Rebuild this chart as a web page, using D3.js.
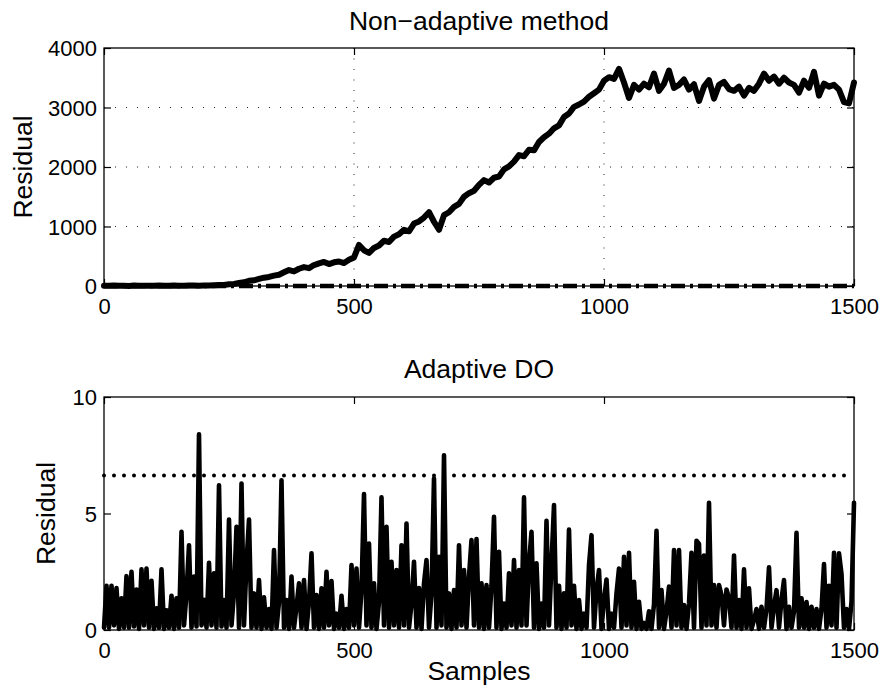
<!DOCTYPE html>
<html>
<head>
<meta charset="utf-8">
<script src="https://cdnjs.cloudflare.com/ajax/libs/d3/7.8.5/d3.min.js"></script>
<style>
    body { margin: 0; background: #fff; }
    svg { display: block; }
    text { font-family: "Liberation Sans", Arial, Helvetica, sans-serif; fill: #000; }
</style>
</head>
<body>
<div id="chart"></div>
<script>
// sample spacing of the typed series
var nonAdaptiveStep = 10;
var adaptiveStep = 5;

var xTicks = [0, 500, 1000, 1500];
var nonAdaptiveYTicks = [0, 1000, 2000, 3000, 4000];
var adaptiveYTicks = [0, 5, 10];

var nonAdaptiveThreshold = 0;
var adaptiveThreshold = 6.63;

// residual of the non-adaptive method, one value every 10 samples
var nonAdaptiveResidual = [
    5, 3, 8, 4, 6, 2, 7, 5, 3, 6,
    4, 8, 5, 3, 7, 6, 4, 9, 7, 5,
    10, 8, 12, 15, 18, 28, 35, 50, 62, 88,
    95, 118, 140, 152, 175, 190, 230, 268, 245, 290,
    318, 300, 352, 380, 405, 368, 398, 412, 385, 440,
    480, 690, 600, 555, 640, 680, 760, 740, 830, 870,
    945, 920, 1050, 1085, 1150, 1240, 1080, 945, 1190, 1240,
    1330, 1380, 1500, 1560, 1600, 1700, 1780, 1740, 1820, 1840,
    1960, 2010, 2090, 2200, 2180, 2290, 2280, 2420, 2500, 2560,
    2650, 2700, 2840, 2900, 3010, 3050, 3100, 3180, 3240, 3300,
    3450, 3510, 3480, 3650, 3420, 3160, 3380, 3300, 3400, 3340,
    3570, 3280, 3400, 3620, 3330, 3380, 3470, 3300, 3390, 3110,
    3350, 3460, 3150, 3380, 3430, 3310, 3280, 3350, 3200, 3330,
    3280, 3400, 3570, 3450, 3520, 3400, 3500, 3420, 3380, 3250,
    3450, 3330, 3600, 3200, 3400, 3350, 3380, 3300, 3090, 3070,
    3420
];

// residual of the adaptive DO, one value every 5 samples
var adaptiveResidual = [
    0.1, 1.9, 0.1, 1.9, 0.2, 1.8, 0.05, 1.36, 0.1, 2.31,
    0.1, 2.5, 0.15, 1.74, 0.05, 2.6, 0.2, 2.64, 0.1, 2.11,
    0.05, 0.93, 0.1, 2.6, 0.05, 0.85, 0.1, 1.47, 0.05, 1.36,
    0.1, 4.21, 0.2, 1.57, 3.64, 0.1, 2.29, 0.15, 8.4, 0.2,
    1.3, 0.1, 2.88, 0.2, 2.43, 0.1, 6.21, 0.15, 1.29, 0.1,
    4.74, 0.2, 1.6, 4.43, 0.1, 6.29, 0.2, 2.86, 4.74, 0.1,
    1.57, 0.1, 2.14, 0.05, 1.4, 0.1, 0.9, 0.05, 3.43, 0.1,
    1.2, 6.43, 0.1, 1.29, 0.05, 2.29, 0.1, 1.0, 2.0, 0.1,
    2.14, 0.05, 1.2, 3.29, 0.1, 1.5, 0.05, 1.79, 0.1, 2.5,
    0.2, 2.1, 0.05, 0.7, 0.1, 1.47, 0.05, 0.9, 0.1, 2.79,
    0.2, 2.64, 0.1, 1.71, 5.83, 0.2, 3.71, 0.1, 2.0, 0.05,
    1.2, 5.69, 0.2, 4.43, 0.1, 2.93, 0.2, 2.57, 0.1, 3.64,
    0.2, 4.57, 0.1, 1.14, 2.93, 0.1, 1.8, 0.05, 2.0, 3.0,
    0.1, 1.57, 6.5, 0.1, 3.14, 0.2, 7.5, 0.1, 1.57, 0.05,
    1.71, 0.1, 3.64, 0.2, 2.57, 0.1, 2.29, 3.86, 0.2, 3.9,
    0.1, 2.0, 0.05, 1.93, 0.1, 1.9, 4.86, 0.1, 3.36, 0.05,
    1.14, 0.1, 2.43, 0.2, 3.0, 0.1, 2.57, 0.2, 5.69, 0.2,
    2.86, 4.21, 0.1, 2.86, 0.05, 1.14, 0.1, 4.69, 0.2, 2.86,
    5.36, 0.1, 1.9, 0.05, 1.57, 0.1, 4.31, 0.2, 1.9, 0.05,
    1.29, 0.05, 0.7, 0.1, 2.79, 4.07, 0.1, 1.71, 2.57, 0.05,
    1.3, 2.17, 0.05, 0.7, 0.1, 1.57, 2.64, 0.1, 3.14, 0.2,
    3.31, 0.1, 2.07, 0.05, 1.21, 0.05, 0.3, 0.05, 0.8, 0.05,
    1.1, 4.26, 0.1, 1.71, 0.05, 0.8, 1.86, 0.1, 3.43, 0.2,
    3.43, 0.1, 1.07, 0.05, 1.14, 3.31, 0.1, 3.83, 3.69, 0.1,
    3.2, 0.2, 5.46, 0.2, 1.93, 0.1, 1.93, 1.5, 0.2, 1.74,
    1.36, 0.1, 3.2, 0.1, 1.29, 0.05, 2.6, 0.1, 1.79, 0.05,
    0.43, 0.9, 0.05, 1.0, 0.1, 0.9, 2.69, 0.1, 1.0, 1.71,
    0.1, 1.3, 2.14, 0.05, 1.0, 0.1, 0.8, 4.17, 0.1, 1.36,
    0.1, 1.2, 0.05, 1.0, 0.1, 0.9, 0.05, 0.9, 2.83, 0.1,
    1.9, 0.2, 3.31, 0.1, 3.29, 2.4, 0.1, 0.9, 0.05, 1.2,
    5.46
];


var width = 881
var height = 695
var tickLen = 7

var chartSvg = d3.select('#chart')
    .append('svg')
    .attr('width', width)
    .attr('height', height)

var xScale = d3.scaleLinear()
    .domain([0, 1500])
    .range([104, 854])

//builds one subplot: grid, data, threshold, box, ticks, labels
function drawPanel(opt) {
    var g = chartSvg.append('g')

    var yScale = d3.scaleLinear()
        .domain([opt.yTicks[0], opt.yTicks[opt.yTicks.length - 1]])
        .range([opt.bottom, opt.top])

    var x0 = xScale.range()[0], x1 = xScale.range()[1]

    if (opt.grid) {
        g.selectAll('.vgrid')
            .data(xTicks.slice(1, -1))
            .enter()
            .append('line')
            .attr('x1', function(d) { return xScale(d) })
            .attr('x2', function(d) { return xScale(d) })
            .attr('y1', opt.top)
            .attr('y2', opt.bottom)
            .attr('stroke', '#222')
            .attr('stroke-width', 1)
            .attr('stroke-dasharray', '1,9.5')
        g.selectAll('.hgrid')
            .data(opt.yTicks.slice(1, -1))
            .enter()
            .append('line')
            .attr('y1', function(d) { return yScale(d) })
            .attr('y2', function(d) { return yScale(d) })
            .attr('x1', x0)
            .attr('x2', x1)
            .attr('stroke', '#222')
            .attr('stroke-width', 1)
            .attr('stroke-dasharray', '1,10')
    }

    var line = d3.line()
        .x(function(d, i) { return xScale(i * opt.step) })
        .y(function(d) { return yScale(d) })

    g.append('path')
        .datum(opt.values)
        .attr('d', line)
        .attr('fill', 'none')
        .attr('stroke', '#000')
        .attr('stroke-width', opt.lineWidth)
        .attr('stroke-linejoin', 'round')
        .attr('stroke-linecap', 'round')

    var thresholdLine = d3.line()
        .x(function(d) { return xScale(d) })
        .y(function() { return yScale(opt.threshold) })

    g.append('path')
        .datum([0, 1500])
        .attr('d', thresholdLine)
        .attr('fill', 'none')
        .attr('stroke', '#000')
        .attr('stroke-width', opt.thresholdWidth)
        .attr('stroke-dasharray', opt.thresholdDash)
        .attr('stroke-linecap', opt.thresholdCap)

    // axes box
    g.append('rect')
        .attr('x', x0)
        .attr('y', opt.top)
        .attr('width', x1 - x0)
        .attr('height', opt.bottom - opt.top)
        .attr('fill', 'none')
        .attr('stroke', '#000')
        .attr('stroke-width', 1.3)

    var fmt = d3.format('d')
    var xAxisG = g.append('g')
        .attr('transform', 'translate(0,' + opt.bottom + ')')
        .call(d3.axisBottom(xScale).tickValues(xTicks).tickFormat(fmt).tickSizeInner(-tickLen).tickSizeOuter(0))
    var xAxisTopG = g.append('g')
        .attr('transform', 'translate(0,' + opt.top + ')')
        .call(d3.axisTop(xScale).tickValues(xTicks).tickSizeInner(-tickLen).tickSizeOuter(0).tickFormat(''))
    var yAxisG = g.append('g')
        .attr('transform', 'translate(' + x0 + ',0)')
        .call(d3.axisLeft(yScale).tickValues(opt.yTicks).tickFormat(fmt).tickSizeInner(-tickLen).tickSizeOuter(0))
    var yAxisRightG = g.append('g')
        .attr('transform', 'translate(' + x1 + ',0)')
        .call(d3.axisRight(yScale).tickValues(opt.yTicks).tickSizeInner(-tickLen).tickSizeOuter(0).tickFormat(''))

    ;[xAxisG, xAxisTopG, yAxisG, yAxisRightG].forEach(function(a) {
        a.select('.domain').remove()
        a.selectAll('line').attr('stroke', '#000').attr('stroke-width', 1.2)
        a.selectAll('text')
            .style('font-family', '"Liberation Sans", Arial, sans-serif')
            .style('font-size', '22px')
            .attr('fill', '#000')
    })
    xAxisG.selectAll('text').attr('dy', null).attr('y', 28)
    yAxisG.selectAll('text').attr('dy', '0.36em').attr('x', -7)

    g.append('text')
        .attr('x', (x0 + x1) / 2)
        .attr('y', opt.titleY)
        .attr('text-anchor', 'middle')
        .style('font-size', '26.5px')
        .text(opt.title)

    g.append('text')
        .attr('transform', 'translate(' + opt.yLabelX + ',' + (opt.top + opt.bottom) / 2 + ') rotate(-90)')
        .attr('text-anchor', 'middle')
        .style('font-size', '26.5px')
        .text('Residual')

    if (opt.xLabel) {
        g.append('text')
            .attr('x', (x0 + x1) / 2)
            .attr('y', opt.bottom + 49.5)
            .attr('text-anchor', 'middle')
            .style('font-size', '26.5px')
            .text(opt.xLabel)
    }
}

drawPanel({
    top: 48, bottom: 286,
    yTicks: nonAdaptiveYTicks,
    values: nonAdaptiveResidual,
    step: nonAdaptiveStep,
    lineWidth: 6,
    threshold: nonAdaptiveThreshold,
    thresholdWidth: 4.5,
    thresholdDash: '14,5,3,5',
    thresholdCap: 'butt',
    grid: true,
    title: 'Non\u2212adaptive method',
    titleY: 29.5,
    yLabelX: 31.5
})

drawPanel({
    top: 397, bottom: 630,
    yTicks: adaptiveYTicks,
    values: adaptiveResidual,
    step: adaptiveStep,
    lineWidth: 4.6,
    threshold: adaptiveThreshold,
    thresholdWidth: 4,
    thresholdDash: '0,10',
    thresholdCap: 'round',
    grid: false,
    title: 'Adaptive DO',
    titleY: 378,
    yLabelX: 55,
    xLabel: 'Samples'
})
</script>
</body>
</html>
